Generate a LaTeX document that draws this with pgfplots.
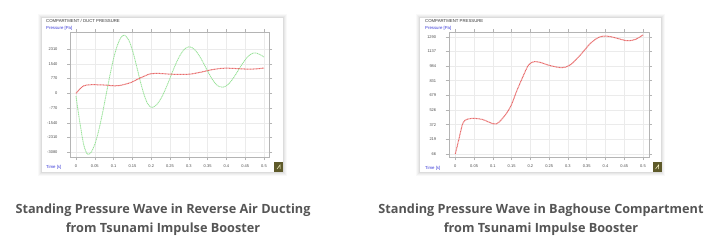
\documentclass[border=0pt]{standalone}
\usepackage{pgfplots}
\pgfplotsset{compat=1.18}
\usepackage{pgfplotstable}
\usepackage{fontspec}
\setmainfont{Open Sans}
\newfontfamily\chartfont{Liberation Sans}
\definecolor{capgray}{HTML}{555555}
\definecolor{gridgray}{HTML}{EBEBEB}
\definecolor{framegray}{HTML}{B4B4B4}
\definecolor{lgreen}{HTML}{96E296}
\definecolor{lred}{HTML}{E86A6A}
\definecolor{lblue}{HTML}{3A3AD8}
\definecolor{iconol}{HTML}{5E5A2A}

\pgfplotstableread{
t v
0 -150
0.005 -850
0.01 -1500
0.015 -2100
0.02 -2650
0.025 -2980
0.03 -3180
0.035 -3190
0.04 -3093
0.05 -2672
0.06 -1979
0.07 -1080
0.08 -78
0.09 924
0.10 1823
0.11 2516
0.12 2937
0.128 3043
0.13 3035
0.14 2797
0.15 2259
0.16 1517
0.17 712
0.18 -13
0.19 -527
0.20 -733
0.21 -672
0.22 -461
0.23 -123
0.24 311
0.25 798
0.26 1289
0.27 1737
0.28 2098
0.29 2337
0.30 2429
0.31 2375
0.32 2191
0.33 1901
0.34 1543
0.35 1164
0.36 810
0.37 529
0.38 357
0.39 317
0.40 395
0.41 578
0.42 841
0.43 1151
0.44 1468
0.45 1755
0.46 1973
0.47 2095
0.476 2116
0.48 2105
0.49 2020
0.50 1900
}\greendata

\pgfplotstableread{
t v
0 0
0.009 200
0.02 390
0.031 440
0.049 450
0.071 438
0.093 405
0.104 392
0.115 405
0.133 485
0.148 580
0.164 740
0.182 900
0.195 1005
0.209 1040
0.226 1035
0.253 1000
0.284 985
0.306 1010
0.333 1110
0.360 1230
0.382 1295
0.400 1315
0.422 1300
0.448 1272
0.462 1265
0.480 1280
0.500 1322
}\redleft

\pgfplotstableread{
t v
0 66
0.009 212
0.02 386
0.031 428
0.049 438
0.071 428
0.093 393
0.104 379
0.115 393
0.133 473
0.148 567
0.164 727
0.182 890
0.195 995
0.209 1029
0.226 1022
0.253 988
0.284 967
0.306 995
0.333 1099
0.360 1221
0.382 1283
0.400 1297
0.422 1283
0.448 1255
0.462 1248
0.480 1262
0.500 1308
}\redright

\pgfplotsset{
  panelaxis/.style={
    scale only axis,
    anchor=south west,
    axis line style={framegray, line width=0.4pt},
    grid=major,
    grid style={gridgray, line width=0.4pt},
    tick align=outside,
    major tick length=3pt,
    tick style={framegray, line width=0.4pt},
    xtick pos=both, ytick pos=both,
    xticklabel pos=left, yticklabel pos=left,
    tick label style={font=\chartfont\fontsize{4}{5}\selectfont, text=black!70},
    xtick={0,0.05,0.1,0.15,0.2,0.25,0.3,0.35,0.4,0.45,0.5},
    xticklabels={0,0.05,0.1,0.15,0.2,0.25,0.3,0.35,0.4,0.45,0.5},
    xticklabel style={yshift=-1pt},
    yticklabel style={xshift=-6pt},
    clip=true,
  }
}

\begin{document}
\begin{tikzpicture}[x=1pt,y=1pt]
\path[use as bounding box] (0pt,0pt) rectangle (714pt,247pt);

% panels with soft shadow
\foreach \px in {42,420}{
  \foreach \d/\o in {4/0.025,3/0.03,2/0.04,1/0.05}{
    \fill[black,opacity=\o] ({(\px-\d)*1pt},{(75-\d+0.5)*1pt}) rectangle ({(\px+241+\d)*1pt},{(229+\d-0.5)*1pt});
  }
  \fill[white] ({\px*1pt},75pt) rectangle ({(\px+241)*1pt},229pt);
}

% left chart
\begin{axis}[panelaxis,
  at={(70pt,90pt)}, width=199pt, height=125pt,
  xmin=-0.016, xmax=0.5133, ymin=-3333, ymax=3208,
  ytick={-3080,-2310,-1540,-770,0,770,1540,2310},
  yticklabels={-3080,-2310,-1540,-770,0,770,1540,2310},
]
\addplot[lgreen, line width=0.8pt, dash pattern=on 1.2pt off 0.6pt, smooth] table[x=t,y=v] {\greendata};
\addplot[lred, line width=1pt, dash pattern=on 1pt off 0.5pt, smooth] table[x=t,y=v] {\redleft};
\end{axis}

% right chart
\begin{axis}[panelaxis,
  at={(448.7pt,90pt)}, width=200pt, height=125pt,
  xmin=-0.0176, xmax=0.5152, ymin=34.7, ymax=1339,
  ytick={66,219,372,526,679,831,984,1137,1290},
  yticklabels={66,219,372,526,679,831,984,1137,1290},
]
\addplot[lred, line width=1pt, dash pattern=on 1pt off 0.5pt, smooth] table[x=t,y=v] {\redright};
\end{axis}

% chart texts
\node[anchor=west, inner sep=0, font=\chartfont\fontsize{4.3}{5}\selectfont, text=black!80] at (46pt,226pt) {COMPARTMENT / DUCT PRESSURE};
\node[anchor=west, inner sep=0, font=\chartfont\fontsize{4.3}{5}\selectfont, text=lblue] at (46pt,219pt) {Pressure [Pa]};
\node[anchor=west, inner sep=0, font=\chartfont\fontsize{4.3}{5}\selectfont, text=lblue] at (46pt,80pt) {Time [s]};
\node[anchor=west, inner sep=0, font=\chartfont\fontsize{4.3}{5}\selectfont, text=black!80] at (425pt,226pt) {COMPARTMENT PRESSURE};
\node[anchor=west, inner sep=0, font=\chartfont\fontsize{4.3}{5}\selectfont, text=lblue] at (425pt,219pt) {Pressure [Pa]};
\node[anchor=west, inner sep=0, font=\chartfont\fontsize{4.3}{5}\selectfont, text=lblue] at (425pt,79pt) {Time [s]};

% small icons
\foreach \ix in {274,652.5}{
  \fill[iconol] ({\ix*1pt},75pt) rectangle ({(\ix+9)*1pt},85pt);
  \draw[white!80!yellow, line width=0.5pt] ({(\ix+3)*1pt},78pt) -- ({(\ix+6)*1pt},82pt) -- ({(\ix+6)*1pt},78pt);
}

% captions
\node[font=\bfseries\fontsize{12.7}{14}\selectfont, text=capgray] at (163pt,36.5pt) {Standing Pressure Wave in Reverse Air Ducting};
\node[font=\bfseries\fontsize{12.7}{14}\selectfont, text=capgray] at (163pt,17.5pt) {from Tsunami Impulse Booster};
\node[font=\bfseries\fontsize{12.7}{14}\selectfont, text=capgray] at (541pt,36.5pt) {Standing Pressure Wave in Baghouse Compartment};
\node[font=\bfseries\fontsize{12.7}{14}\selectfont, text=capgray] at (541pt,17.5pt) {from Tsunami Impulse Booster};
\end{tikzpicture}
\end{document}
